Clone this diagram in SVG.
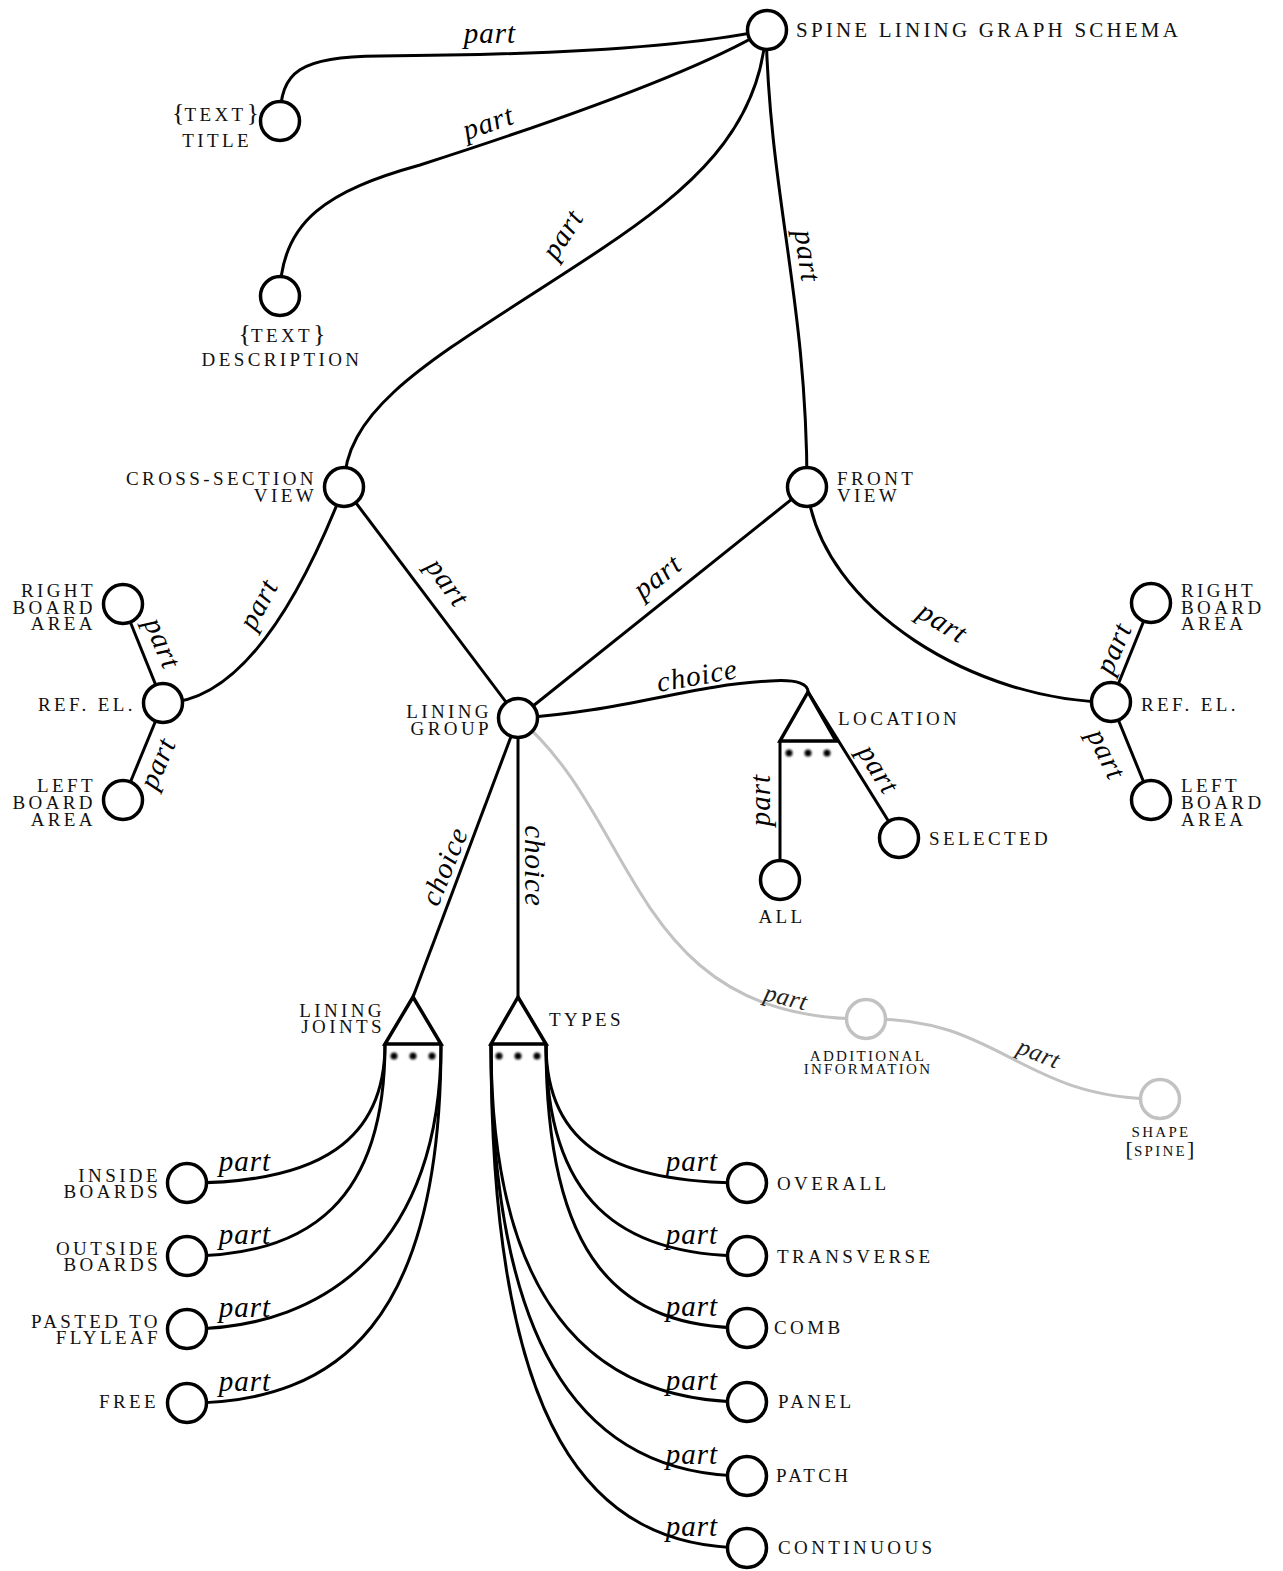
<svg xmlns="http://www.w3.org/2000/svg" width="1283" height="1571" viewBox="0 0 1283 1571">
<defs>
<style>
.e{fill:none;stroke:#000;stroke-width:3}
.g{fill:none;stroke:#c2c2c2;stroke-width:3}
.n circle{fill:#fff;stroke:#000;stroke-width:3.5}
.gn circle{fill:#fff;stroke:#c2c2c2;stroke-width:3.5}
.tri{fill:#fff;stroke:#000;stroke-width:3.5;stroke-linejoin:miter}
.dot{fill:#000;filter:url(#blur)}
text{font-family:"Liberation Serif","Times New Roman",serif;fill:#111}
.lbl{font-size:19px;letter-spacing:3.4px}
.sm{font-size:15px;letter-spacing:2.3px}
.end{text-anchor:end}
.mid{text-anchor:middle}
.el{font-style:italic;font-size:29px;letter-spacing:1px;text-anchor:middle;dominant-baseline:central;fill:#000}
.gel{font-style:italic;font-size:25px;letter-spacing:0.5px;text-anchor:middle;dominant-baseline:central;fill:#222}
.br{font-size:26px;letter-spacing:0}
</style>
<filter id="blur" x="-1" y="-1" width="3" height="3"><feGaussianBlur stdDeviation="1.3"/></filter>
</defs>
<rect width="1283" height="1571" fill="#fff"/>

<g id="connectors">
  <path class="g" d="M518,718 C640,820 630,1019 866,1019"/>
  <path class="g" d="M866,1019 C1000,1016 1020,1099 1160,1099"/>
  <path class="e" d="M280,121 C280,70 300,57 380,56 C550,55 680,48 766,30"/>
  <path class="e" d="M280,296 C280,220 330,190 420,165 C560,120 700,70 766,30"/>
  <path class="e" d="M766,30 C760,130 690,190 600,250 C450,350 344,400 344,487"/>
  <path class="e" d="M766,30 C770,200 807,300 807,487"/>
  <path class="e" d="M344,487 C300,600 240,703 163,703"/>
  <path class="e" d="M344,487 L518,718"/>
  <path class="e" d="M807,487 L518,718"/>
  <path class="e" d="M807,487 C820,610 980,702 1111,702"/>
  <path class="e" d="M163,703 L123,604"/>
  <path class="e" d="M163,703 L123,800"/>
  <path class="e" d="M1111,702 L1151,603"/>
  <path class="e" d="M1111,702 L1151,800"/>
  <path class="e" d="M518,718 C620,712 690,685 770,681 C800,679 808,685 808,692"/>
  <path class="e" d="M780,741 L780,880"/>
  <path class="e" d="M808,692 L899,838"/>
  <path class="e" d="M518,718 L413,997"/>
  <path class="e" d="M518,718 L518,997"/>
  <path class="e" d="M385,1044 C385,1140 320,1183 187,1183"/>
  <path class="e" d="M385,1044 C385,1200 310,1256 187,1256"/>
  <path class="e" d="M441,1044 C441,1240 330,1329 187,1329"/>
  <path class="e" d="M441,1044 C441,1320 340,1403 187,1403"/>
  <path class="e" d="M546,1044 C546,1150 620,1183 747,1183"/>
  <path class="e" d="M546,1044 C546,1200 620,1256 747,1256"/>
  <path class="e" d="M546,1044 C546,1260 620,1328 747,1328"/>
  <path class="e" d="M491,1044 C491,1300 590,1402 747,1402"/>
  <path class="e" d="M491,1044 C491,1360 590,1476 747,1476"/>
  <path class="e" d="M491,1044 C491,1430 590,1548 747,1548"/>

  <text class="el" x="490" y="33">part</text>
  <text class="el" transform="translate(488,122) rotate(-19)">part</text>
  <text class="el" transform="translate(562,234) rotate(-57)">part</text>
  <text class="el" transform="translate(808,256) rotate(82)">part</text>
  <text class="el" transform="translate(258,604) rotate(-62)">part</text>
  <text class="el" transform="translate(448,582) rotate(54)">part</text>
  <text class="el" transform="translate(657,576) rotate(-38)">part</text>
  <text class="el" transform="translate(943,622) rotate(32)">part</text>
  <text class="el" transform="translate(163,643) rotate(67)">part</text>
  <text class="el" transform="translate(157,763) rotate(-67)">part</text>
  <text class="el" transform="translate(1113,648) rotate(-67)">part</text>
  <text class="el" transform="translate(1107,754) rotate(64)">part</text>
  <text class="el" transform="translate(697,675) rotate(-10)">choice</text>
  <text class="el" transform="translate(760,800) rotate(-90)">part</text>
  <text class="el" transform="translate(879,769) rotate(58)">part</text>
  <text class="el" transform="translate(444,866) rotate(-68)">choice</text>
  <text class="el" transform="translate(535,866) rotate(90)">choice</text>
  <text class="el" x="245" y="1161">part</text>
  <text class="el" x="245" y="1234">part</text>
  <text class="el" x="245" y="1307">part</text>
  <text class="el" x="245" y="1381">part</text>
  <text class="el" x="692" y="1161">part</text>
  <text class="el" x="692" y="1234">part</text>
  <text class="el" x="692" y="1306">part</text>
  <text class="el" x="692" y="1380">part</text>
  <text class="el" x="692" y="1454">part</text>
  <text class="el" x="692" y="1526">part</text>
  <text class="gel" transform="translate(786,997) rotate(14)">part</text>
  <text class="gel" transform="translate(1039,1053) rotate(22)">part</text>
</g>

<g id="root" class="n"><circle cx="767" cy="30" r="19.5"/>
  <text x="796" y="37" style="font-size:21px;letter-spacing:3.2px">SPINE LINING GRAPH SCHEMA</text></g>

<g id="title" class="n"><circle cx="280" cy="121" r="19.5"/>
  <text class="lbl end" x="259" y="121"><tspan class="br">{</tspan>TEXT<tspan class="br">}</tspan><tspan x="252" y="147">TITLE</tspan></text></g>

<g id="description" class="n"><circle cx="280" cy="296" r="19.5"/>
  <text class="lbl mid" x="282" y="342"><tspan class="br">{</tspan>TEXT<tspan class="br">}</tspan><tspan x="282" y="366">DESCRIPTION</tspan></text></g>

<g id="cross-section" class="n"><circle cx="344" cy="487" r="19.5"/>
  <text class="lbl end" x="317" y="485">CROSS-SECTION<tspan x="317" y="502">VIEW</tspan></text></g>

<g id="front" class="n"><circle cx="807" cy="487" r="19.5"/>
  <text class="lbl" x="837" y="485">FRONT<tspan x="837" y="502">VIEW</tspan></text></g>

<g id="refel-left" class="n"><circle cx="163" cy="703" r="19.5"/>
  <text class="lbl end" x="136" y="711">REF. EL.</text></g>
<g id="rightboard-left" class="n"><circle cx="123" cy="604" r="19.5"/>
  <text class="lbl end" x="96" y="597">RIGHT<tspan x="96" y="614">BOARD</tspan><tspan x="96" y="630">AREA</tspan></text></g>
<g id="leftboard-left" class="n"><circle cx="123" cy="800" r="19.5"/>
  <text class="lbl end" x="96" y="792">LEFT<tspan x="96" y="809">BOARD</tspan><tspan x="96" y="826">AREA</tspan></text></g>

<g id="refel-right" class="n"><circle cx="1111" cy="702" r="19.5"/>
  <text class="lbl" x="1141" y="711">REF. EL.</text></g>
<g id="rightboard-right" class="n"><circle cx="1151" cy="603" r="19.5"/>
  <text class="lbl" x="1181" y="597">RIGHT<tspan x="1181" y="614">BOARD</tspan><tspan x="1181" y="630">AREA</tspan></text></g>
<g id="leftboard-right" class="n"><circle cx="1151" cy="800" r="19.5"/>
  <text class="lbl" x="1181" y="792">LEFT<tspan x="1181" y="809">BOARD</tspan><tspan x="1181" y="826">AREA</tspan></text></g>

<g id="lining-group" class="n"><circle cx="518" cy="718" r="19.5"/>
  <text class="lbl end" x="492" y="718">LINING<tspan x="492" y="735">GROUP</tspan></text></g>

<g id="location">
  <polygon class="tri" points="808,692 780,741 836,741"/>
  <circle class="dot" cx="789" cy="753" r="3.5"/><circle class="dot" cx="808" cy="753" r="3.5"/><circle class="dot" cx="827" cy="753" r="3.5"/>
  <text class="lbl" x="838" y="725">LOCATION</text></g>
<g id="selected" class="n"><circle cx="899" cy="838" r="19.5"/>
  <text class="lbl" x="929" y="845">SELECTED</text></g>
<g id="all" class="n"><circle cx="780" cy="880" r="19.5"/>
  <text class="lbl mid" x="782" y="923">ALL</text></g>

<g id="lining-joints">
  <polygon class="tri" points="413,997 385,1044 441,1044"/>
  <circle class="dot" cx="394" cy="1056" r="3.5"/><circle class="dot" cx="413" cy="1056" r="3.5"/><circle class="dot" cx="432" cy="1056" r="3.5"/>
  <text class="lbl end" x="385" y="1017">LINING<tspan x="385" y="1033">JOINTS</tspan></text></g>
<g id="types">
  <polygon class="tri" points="518,997 491,1044 546,1044"/>
  <circle class="dot" cx="499" cy="1056" r="3.5"/><circle class="dot" cx="518" cy="1056" r="3.5"/><circle class="dot" cx="537" cy="1056" r="3.5"/>
  <text class="lbl" x="549" y="1026">TYPES</text></g>

<g id="additional" class="gn"><circle cx="866" cy="1019" r="19.5"/>
  <text class="sm mid" x="868" y="1061">ADDITIONAL<tspan x="868" y="1074">INFORMATION</tspan></text></g>
<g id="shape" class="gn"><circle cx="1160" cy="1099" r="19.5"/>
  <text class="sm mid" x="1161" y="1137">SHAPE<tspan x="1160" y="1156"><tspan style="font-size:22px;letter-spacing:1px">[</tspan>SPINE<tspan style="font-size:22px;letter-spacing:0">]</tspan></tspan></text></g>

<g id="inside-boards" class="n"><circle cx="187" cy="1183" r="19.5"/>
  <text class="lbl end" x="161" y="1182">INSIDE<tspan x="161" y="1198">BOARDS</tspan></text></g>
<g id="outside-boards" class="n"><circle cx="187" cy="1256" r="19.5"/>
  <text class="lbl end" x="161" y="1255">OUTSIDE<tspan x="161" y="1271">BOARDS</tspan></text></g>
<g id="pasted" class="n"><circle cx="187" cy="1329" r="19.5"/>
  <text class="lbl end" x="161" y="1328">PASTED TO<tspan x="161" y="1344">FLYLEAF</tspan></text></g>
<g id="free" class="n"><circle cx="187" cy="1403" r="19.5"/>
  <text class="lbl end" x="159" y="1408">FREE</text></g>

<g id="overall" class="n"><circle cx="747" cy="1183" r="19.5"/>
  <text class="lbl" x="777" y="1190">OVERALL</text></g>
<g id="transverse" class="n"><circle cx="747" cy="1256" r="19.5"/>
  <text class="lbl" x="777" y="1263">TRANSVERSE</text></g>
<g id="comb" class="n"><circle cx="747" cy="1328" r="19.5"/>
  <text class="lbl" x="774" y="1334">COMB</text></g>
<g id="panel" class="n"><circle cx="747" cy="1402" r="19.5"/>
  <text class="lbl" x="778" y="1408">PANEL</text></g>
<g id="patch" class="n"><circle cx="747" cy="1476" r="19.5"/>
  <text class="lbl" x="776" y="1482">PATCH</text></g>
<g id="continuous" class="n"><circle cx="747" cy="1548" r="19.5"/>
  <text class="lbl" x="778" y="1554">CONTINUOUS</text></g>
</svg>
